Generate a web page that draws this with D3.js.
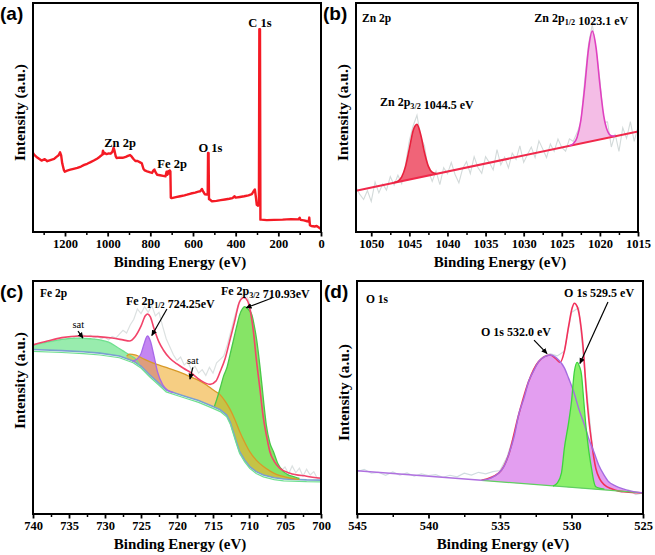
<!DOCTYPE html>
<html><head><meta charset="utf-8">
<script src="https://cdn.jsdelivr.net/npm/d3@7"></script>
<style>body{margin:0;background:#fff}svg{display:block}</style></head>
<body>
<svg id="chart" width="655" height="555"></svg>
<script>
// ---------------- DATA ----------------
// (a) survey spectrum [binding energy, intensity]
const surveyData = [[1350,34.5],[1345,33.8],[1330,32.5],[1310,31.2],[1295,31.8],[1283,30.9],[1265,31.5],[1251,31.9],[1240,32.8],[1230,33.5],[1223,34.8],[1218,33.5],[1213,30.0],[1205,27.0],[1201,26.3],[1190,26.8],[1175,27.2],[1160,27.6],[1142,28.0],[1125,28.6],[1110,29.3],[1096,29.8],[1080,30.5],[1065,31.2],[1050,32.0],[1040,32.6],[1033,33.2],[1025,33.8],[1022,35.5],[1019,34.0],[1015,34.6],[1005,34.0],[995,34.3],[986,34.2],[978,35.0],[972,36.8],[968,35.5],[962,33.0],[958,32.3],[945,32.5],[930,32.4],[915,32.8],[905,33.2],[895,33.6],[888,33.0],[880,32.0],[870,31.0],[860,31.0],[848,30.4],[840,30.0],[832,27.5],[826,26.9],[815,26.5],[800,26.0],[792,25.8],[786,26.8],[781,27.3],[775,26.0],[768,25.0],[755,24.8],[740,24.5],[729,24.3],[724,26.3],[720,25.0],[716,26.5],[712,25.5],[709,26.9],[706,26.5],[704,15.0],[700,14.8],[680,15.2],[660,15.6],[640,16.0],[628,16.3],[610,16.8],[590,17.2],[575,17.6],[566,17.8],[558,18.8],[552,17.6],[545,16.5],[535,16.3],[531,16.5],[529.5,34.5],[527,34.5],[525,14.3],[520,14.1],[511,13.4],[490,13.6],[470,13.9],[450,14.2],[430,14.5],[415,14.8],[405,15.6],[400,15.0],[380,15.3],[360,15.6],[340,16.0],[324,16.5],[316,17.8],[310,18.6],[305,15.0],[301,11.9],[295,11.5],[291,12.2],[289,88.6],[286,88.6],[284,5.4],[280,5.4],[254,5.2],[220,5.3],[180,5.4],[140,5.6],[106,5.5],[100,6.2],[96,5.3],[80,5.1],[65,4.7],[58,4.6],[55,6.3],[52,3.0],[45,2.6],[30,2.4],[20,2.6],[10,2.0],[0,1.3]];
const surveyTicks = [1200,1000,800,600,400,200,0];
const surveyMinor = [1300,1100,900,700,500,300,100];

// (b) Zn 2p : raw counts on a 0.5 eV grid from 1052 eV downwards
const znRaw = [19.5,16.4,14.2,18.1,13.4,21.8,17.1,21.0,18.3,24.2,20.5,24.8,21.1,29.7,39.9,46.4,51.0,41.4,37.5,26.7,22.1,26.6,20.7,28.1,25.4,30.3,25.1,21.5,27.8,30.7,25.5,32.9,28.2,25.6,32.9,30.3,27.1,36.0,29.3,32.7,28.0,34.4,31.7,37.6,30.4,33.8,37.1,32.5,39.8,36.2,32.5,38.4,35.2,40.6,36.9,35.3,40.7,39.6,43.3,47.8,66.0,81.8,90.7,79.5,66.4,47.9,48.1,37.1,42.8,35.2,45.5,40.9,48.2,39.6,45.9];
const znBaseline = [[1052,18],[1015,43.9]];
const zn32Peak = [[1047,21.6],[1046.5,22.25],[1046,24.1],[1045.5,28.65],[1045,36.4],[1044.5,44.35],[1044,47.0],[1043.5,42.35],[1043,34.5],[1042.5,28.65],[1042,26.1],[1041.5,25.55]];
const zn12Peak = [[1024,37.7],[1023.5,38.55],[1023,41.3],[1022.5,48.75],[1022,63],[1021.5,79.75],[1021,87.7],[1020.5,80.45],[1020,64.4],[1019.5,50.85],[1019,44.1],[1018.5,42.05],[1018,41.9]];
const znTicks = [1050,1045,1040,1035,1030,1025,1020,1015];
const znMinor = [1047.5,1042.5,1037.5,1032.5,1027.5,1022.5,1017.5];

// (c) Fe 2p
const feRaw = [[740,74.0],[739.5,73.2],[739,74.5],[738.5,73.8],[738,75.2],[737.5,74.6],[737,75.8],[736.5,75.0],[736,76.4],[735.5,75.9],[735,77.1],[734.5,76.5],[734,77.8],[733.5,77.0],[733,78.2],[732.5,77.4],[732,78.0],[731.5,76.8],[731,77.6],[730.5,76.5],[730,77.2],[729.5,76.0],[729,77.5],[728.5,76.8],[728,78.5],[727.5,80.2],[727,79.0],[726.5,82.5],[726,85.0],[725.5,89.5],[725,87.5],[724.5,90.5],[724,88.0],[723.5,91.0],[723,86.5],[722.5,88.0],[722,82.0],[721.5,76.5],[721,73.0],[720.5,69.5],[720,67.0],[719.5,68.5],[719,65.0],[718.5,66.5],[718,63.0],[717.5,64.5],[717,61.5],[716.5,63.0],[716,60.5],[715.5,64.0],[715,61.5],[714.5,66.0],[714,67.5],[713.5,69.0],[713,74.0],[712.5,80.0],[712,86.0],[711.5,91.5],[711,95.0],[710.5,96.5],[710,93.0],[709.5,85.0],[709,70.0],[708.5,55.0],[708,42.0],[707.5,33.0],[707,27.0],[706.5,23.5],[706,21.0],[705.5,19.0],[705,20.5],[704.5,17.5],[704,21.0],[703.5,18.0],[703,20.0],[702.5,16.5],[702,19.5],[701.5,17.0],[701,18.5],[700.5,15.5],[700,16.0]];
const feEnvelope = [[740,73.8],[738,75.5],[736,77],[733.5,77.7],[731,77.4],[729,76.8],[727.5,76],[726.6,75.5],[725.8,77.5],[725,82],[724.4,86.5],[724.1,87.3],[723.7,86],[723.2,81],[722.5,75],[721.9,71.6],[721,68],[720,65.5],[719.1,63.6],[718,61.5],[716.8,58.5],[715.4,56.6],[714.6,58],[714,62.2],[713.3,68],[712.7,75.3],[712,84],[711.3,92.7],[710.7,94.5],[710.2,93],[709.9,89.8],[709.4,80],[709,68],[708.5,55],[708,41.8],[707.5,33],[707.1,27.2],[706.5,23],[705.7,19.9],[704.3,17.8],[702,16.5],[700,15.6]];
const feBackground = [[740,71.8],[736,71.3],[733,70.8],[730.7,70.2],[728,69],[726.1,66.8],[725,64.5],[723.8,60.7],[722.5,57],[721.5,54.1],[720,52.5],[718.7,51.2],[717,49.5],[715,46.9],[714,45.5],[713.1,43.2],[712.6,40],[712.2,36],[711.7,31],[711.3,27.2],[710.6,23.5],[709.9,20.7],[709,18.5],[708,17],[706.5,15.8],[705.2,15.3],[702,14.9],[700,14.8]];
const feSat1 = [[740,73.8],[738,75],[736,76.2],[734,76.8],[732,76.5],[730.7,76],[729.5,75],[728.4,73],[727.5,71.2],[726.6,69.4],[725.6,67.2],[725.2,65.1]];
const fe12Peak = [[726.2,66.6],[725.6,67.5],[725,70],[724.6,74],[724.1,77.7],[723.7,75.5],[723.2,69],[722.7,62],[722,56.5],[721.3,54],[720.5,53]];
const feSat2 = [[727,68.9],[726.6,69.8],[725.7,69.3],[724.5,67.5],[722.9,65.4],[721.5,64],[720.5,62.9],[719.3,61.5],[718.2,60],[717,58.3],[715.9,56.3],[715,54.2],[714,52],[713.3,49.2],[712.7,46.1],[712,41.5],[711.3,36],[710.6,31.3],[709.9,27.2],[709,23.5],[708,20.7],[707,18.6],[706.2,17.3],[705,16.2],[704,15.5],[703,15.1]];
const fe32Peak = [[714.8,47],[714.5,49.8],[714,55],[713.5,60.5],[713.1,63.6],[712.6,70],[712.2,75.3],[711.7,82],[711.3,86.9],[710.9,89.6],[710.6,90.5],[710.2,89.6],[709.6,86.9],[709.2,81],[708.9,75.3],[708.5,65],[708.2,56.3],[707.9,47],[707.6,38.9],[707.1,31],[706.6,27.2],[706,22],[705.2,18.5],[704.5,17],[703.8,16.3],[703,15.5]];
const feTicks = [740,735,730,725,720,715,710,705,700];
const feMinor = [737.5,732.5,727.5,722.5,717.5,712.5,707.5,702.5];

// (d) O 1s
const oRaw = [[545,18.5],[544.5,19.5],[544,17.8],[543.5,18.2],[543,16.9],[542.5,18.4],[542,17.0],[541.5,17.9],[541,16.5],[540.5,17.5],[540,16.8],[539.5,17.2],[539,16.0],[538.5,16.9],[538,16.2],[537.5,17.8],[537,17.0],[536.5,18.2],[536,17.5],[535.5,18.5],[535,19.0],[534.5,25.0],[534,35.0],[533.5,47.0],[533,58.0],[532.5,65.0],[532,68.5],[531.5,70.0],[531,69.0],[530.5,71.0],[530,88.0],[529.5,90.0],[529,58.0],[528.5,27.0],[528,16.5],[527.5,12.5],[527,11.0],[526.5,9.5],[526,10.5],[525.5,8.5],[525,9.2]];
const oBackground = [[545,18.9],[525,9.2]];
const o532Peak = [[536.3,14.7],[535.6,15.8],[535.1,17.8],[534.7,21],[534.4,25.8],[534.0,34],[533.7,43.2],[533.3,51],[533.0,57.8],[532.6,63],[532.3,66.5],[531.9,68.6],[531.5,69.4],[531.2,68.8],[530.9,67.2],[530.5,63.8],[530.2,59.2],[529.8,52.5],[529.5,46.1],[529.1,39],[528.8,33],[528.4,26.5],[528.1,21.4],[527.7,16.8],[527.4,14.1],[527,12.5],[526.7,11.6],[526,10.2],[525,9.2]];
const o529Peak = [[531.3,12.2],[531,13.5],[530.7,18],[530.5,28.7],[530.2,40],[530.0,49.1],[529.8,62.2],[529.6,66.2],[529.45,64.5],[529.3,60.7],[529.15,50],[529.0,38.9],[528.8,28],[528.6,19.9],[528.45,14.5],[528.3,11.9],[528,11.2],[527.7,10.9]];
const oEnvelope = [[536.3,14.7],[535.1,17.8],[534.4,25.8],[533.7,43.2],[533,57.8],[532.3,66.5],[531.5,69.4],[531.1,67.8],[530.8,66.2],[530.5,71],[530.2,82],[529.95,90],[529.8,92],[529.6,90.5],[529.35,82.5],[529.15,70],[529.0,56.3],[528.8,42],[528.6,31.6],[528.3,19.9],[528,15],[527.7,12.7],[527.2,11],[526.7,10],[525,9.2]];
const oTicks = [545,540,535,530,525];
const oMinor = [542.5,537.5,532.5,527.5];

// ---------------- DRAW ----------------
const svg = d3.select("#chart");
const SERIF = "'Liberation Serif','Times New Roman',serif";
const SANS = "'Liberation Sans',Arial,sans-serif";
const defs = svg.append("defs");
defs.append("marker").attr("id","ah").attr("viewBox","0 0 10 10").attr("refX",9).attr("refY",5)
  .attr("markerWidth",6).attr("markerHeight",6).attr("markerUnits","userSpaceOnUse").attr("orient","auto")
  .append("path").attr("d","M0,0.5L10,5L0,9.5Z").attr("fill","#000");

function interp(arr, be){
  for(let i=0;i<arr.length-1;i++){
    const a=arr[i], b=arr[i+1];
    if((be<=a[0]&&be>=b[0])){ const t=(a[0]-be)/(a[0]-b[0]); return a[1]+(b[1]-a[1])*t; }
  }
  return be>arr[0][0]?arr[0][1]:arr[arr.length-1][1];
}

let clipN=0;
function makePanel(o){
  const x=d3.scaleLinear().domain(o.xd).range([o.L,o.R]);
  const y=d3.scaleLinear().domain(o.yd).range([o.B,o.T]);
  const g=svg.append("g");
  const id="clip"+(clipN++);
  defs.append("clipPath").attr("id",id).append("rect").attr("x",o.L).attr("y",o.T).attr("width",o.R-o.L).attr("height",o.B-o.T);
  const plot=g.append("g").attr("clip-path",`url(#${id})`);
  g.append("g").attr("transform",`translate(0,${o.B})`)
    .call(d3.axisBottom(x).tickValues(o.minor).tickSize(3).tickFormat(""))
    .call(a=>a.select(".domain").remove())
    .selectAll("line").attr("stroke","#000").attr("stroke-width",1.5);
  const ax=g.append("g").attr("transform",`translate(0,${o.B})`)
    .call(d3.axisBottom(x).tickValues(o.major).tickSize(4.5).tickPadding(3).tickFormat(d3.format("d")));
  ax.select(".domain").remove();
  ax.selectAll("line").attr("stroke","#000").attr("stroke-width",1.8);
  ax.selectAll("text").attr("font-family",SERIF).attr("font-weight","bold").attr("font-size",12.5).attr("fill","#000");
  g.append("text").attr("x",(o.L+o.R)/2+3).attr("y",o.B+35).attr("text-anchor","middle")
    .attr("font-family",SERIF).attr("font-weight","bold").attr("font-size",15).text("Binding Energy (eV)");
  g.append("text").attr("transform",`translate(${o.L-8},${(o.T+o.B)/2-5+(o.ytOff||0)}) rotate(-90)`).attr("text-anchor","middle")
    .attr("font-family",SERIF).attr("font-weight","bold").attr("font-size",15.5).text("Intensity (a.u.)");
  g.append("text").attr("x",o.L-33).attr("y",o.T+17).attr("font-family",SANS).attr("font-weight","bold")
    .attr("font-size",19).text(o.letter);
  const frame=()=>g.append("rect").attr("x",o.L).attr("y",o.T).attr("width",o.R-o.L).attr("height",o.B-o.T)
    .attr("fill","none").attr("stroke","#000").attr("stroke-width",2);
  return {g,plot,x,y,frame};
}

function lineGen(P,curve){ return d3.line().x(d=>P.x(d[0])).y(d=>P.y(d[1])).curve(curve||d3.curveMonotoneX); }
function areaGen(P,base){ return d3.area().x(d=>P.x(d[0])).y0(d=>P.y(interp(base,d[0]))).y1(d=>P.y(d[1])).curve(d3.curveMonotoneX); }

function label(g,x,y,parts,size,anchor){
  const t=g.append("text").attr("x",x).attr("y",y).attr("font-family",SERIF).attr("font-weight","bold")
    .attr("font-size",size||12).attr("text-anchor",anchor||"start");
  parts.forEach(p=>{
    if(p.sub){ t.append("tspan").attr("font-size",(size||12)*0.68).attr("dy",3).text(p.t);
               t.append("tspan").attr("dy",-3).text(""); }
    else t.append("tspan").text(p.t);
  });
  return t;
}
function arrow(g,x1,y1,x2,y2){
  g.append("line").attr("x1",x1).attr("y1",y1).attr("x2",x2).attr("y2",y2)
    .attr("stroke","#000").attr("stroke-width",1.2).attr("marker-end","url(#ah)");
}

// ---- (a) ----
{
  const P=makePanel({L:33,R:321,T:3,B:232,xd:[1350,0],yd:[0,100],major:surveyTicks,minor:surveyMinor,letter:"(a)"});
  P.plot.append("path").datum(surveyData).attr("d",lineGen(P,d3.curveLinear)).attr("fill","none")
    .attr("stroke","#f41a24").attr("stroke-width",2.4).attr("stroke-linejoin","round");
  P.frame();
  label(P.g,P.x(286),P.y(89.5),[{t:"C 1s"}],12.5,"middle");
  label(P.g,P.x(942),P.y(37.1),[{t:"Zn 2p"}],12.5,"middle");
  label(P.g,P.x(698),P.y(27.9),[{t:"Fe 2p"}],12.5,"middle");
  label(P.g,P.x(518),P.y(34.9),[{t:"O 1s"}],12.5,"middle");
}

// ---- (b) ----
{
  const P=makePanel({L:356,R:638,T:3,B:232,xd:[1052,1015],yd:[0,100],major:znTicks,minor:znMinor,letter:"(b)"});
  const grid=d3.range(znRaw.length).map(i=>1052-0.5*i);
  P.plot.append("path").datum(znRaw.map((v,i)=>[grid[i],v])).attr("d",lineGen(P,d3.curveLinear))
    .attr("fill","none").attr("stroke","#d3dada").attr("stroke-width",1.1);
  P.plot.append("path").datum(zn32Peak).attr("d",areaGen(P,znBaseline)).attr("fill","#f06478");
  P.plot.append("path").datum(zn12Peak).attr("d",areaGen(P,znBaseline)).attr("fill","#f4bde6");
  P.plot.append("path").datum(znBaseline).attr("d",lineGen(P,d3.curveLinear)).attr("fill","none").attr("stroke","#f0284a").attr("stroke-width",2);
  P.plot.append("path").datum(zn32Peak).attr("d",lineGen(P)).attr("fill","none").attr("stroke","#e8203c").attr("stroke-width",1.6);
  P.plot.append("path").datum(zn12Peak).attr("d",lineGen(P)).attr("fill","none").attr("stroke","#e040c0").attr("stroke-width",1.6);
  P.frame();
  label(P.g,362,22,[{t:"Zn 2p"}],11.5);
  label(P.g,P.x(1028.6),P.y(91.7),[{t:"Zn 2p"},{t:"1/2",sub:true},{t:" 1023.1 eV"}],12);
  label(P.g,P.x(1048.85),P.y(55),[{t:"Zn 2p"},{t:"3/2",sub:true},{t:" 1044.5 eV"}],12);
}

// ---- (c) ----
{
  const P=makePanel({L:33,R:321,T:281,B:514,xd:[740,700],yd:[0,101.7],major:feTicks,minor:feMinor,letter:"(c)",ytOff:-12});
  P.plot.append("path").datum(feRaw).attr("d",lineGen(P,d3.curveLinear)).attr("fill","none").attr("stroke","#dce1e1").attr("stroke-width",1.2);
  P.plot.append("path").datum(feSat1).attr("d",areaGen(P,feBackground)).attr("fill","#8deaa4").attr("opacity",0.9);
  P.plot.append("path").datum(fe12Peak).attr("d",areaGen(P,feBackground)).attr("fill","#c486f2");
  P.plot.append("path").datum(fe32Peak).attr("d",areaGen(P,feBackground)).attr("fill","#86e466");
  P.plot.append("path").datum(feSat2).attr("d",areaGen(P,feBackground)).attr("fill","#f0ae30").attr("opacity",0.6);
  P.plot.append("path").datum(feBackground).attr("d",lineGen(P,d3.curveLinear)).attr("fill","none").attr("stroke","#7aa0d0").attr("stroke-width",1.6);
  P.plot.append("path").datum(feBackground.map(d=>[d[0],d[1]-0.8])).attr("d",lineGen(P,d3.curveLinear)).attr("fill","none").attr("stroke","#70e090").attr("stroke-width",1.2);
  P.plot.append("path").datum(feSat1).attr("d",lineGen(P)).attr("fill","none").attr("stroke","#6ee08e").attr("stroke-width",1.3);
  P.plot.append("path").datum(feSat2).attr("d",lineGen(P)).attr("fill","none").attr("stroke","#d89a28").attr("stroke-width",1.3);
  P.plot.append("path").datum(fe12Peak).attr("d",lineGen(P)).attr("fill","none").attr("stroke","#a868e8").attr("stroke-width",1.3);
  P.plot.append("path").datum(fe32Peak).attr("d",lineGen(P)).attr("fill","none").attr("stroke","#48c848").attr("stroke-width",1.3);
  P.plot.append("path").datum(feEnvelope).attr("d",lineGen(P)).attr("fill","none").attr("stroke","#f2446a").attr("stroke-width",1.6);
  P.frame();
  label(P.g,40,297,[{t:"Fe 2p"}],11.5);
  label(P.g,P.x(727.1),P.y(91.2),[{t:"Fe 2p"},{t:"1/2",sub:true},{t:" 724.25eV"}],12);
  label(P.g,P.x(713.9),P.y(95.6),[{t:"Fe 2p"},{t:"3/2",sub:true},{t:" 710.93eV"}],12);
  P.g.append("text").attr("x",P.x(733.7)).attr("y",P.y(81.2)).attr("text-anchor","middle").attr("font-family",SERIF).attr("font-size",10.5).text("sat");
  P.g.append("text").attr("x",P.x(717.8)).attr("y",P.y(65.5)).attr("text-anchor","middle").attr("font-family",SERIF).attr("font-size",10.5).text("sat");
  arrow(P.g,P.x(733.75),P.y(79.8),P.x(733.06),P.y(76.8));
  arrow(P.g,P.x(717.8),P.y(64.0),P.x(718.2),P.y(58.9));
  arrow(P.g,P.x(721.4),P.y(89.5),P.x(723.5),P.y(77.9));
  arrow(P.g,P.x(706.8),P.y(94.3),P.x(710.4),P.y(90.0));
}

// ---- (d) ----
{
  const P=makePanel({L:357,R:643,T:281,B:514,xd:[545,525],yd:[0,101.7],major:oTicks,minor:oMinor,letter:"(d)"});
  P.plot.append("path").datum(oRaw).attr("d",lineGen(P,d3.curveLinear)).attr("fill","none").attr("stroke","#d0dde0").attr("stroke-width",1.2);
  P.plot.append("path").datum(o532Peak).attr("d",areaGen(P,oBackground)).attr("fill","#e39ef0");
  P.plot.append("path").datum(o529Peak).attr("d",areaGen(P,oBackground)).attr("fill","#8cf06a");
  P.plot.append("path").datum(oEnvelope).attr("d",lineGen(P)).attr("fill","none").attr("stroke","#f2305a").attr("stroke-width",1.6);
  P.plot.append("path").datum([[536.3,14.7],[525,9.2]]).attr("d",lineGen(P,d3.curveLinear)).attr("fill","none").attr("stroke","#60d060").attr("stroke-width",1.3);
  P.plot.append("path").datum([[545,18.9],[536.3,14.7]]).attr("d",lineGen(P,d3.curveLinear)).attr("fill","none").attr("stroke","#b070e0").attr("stroke-width",1.6);
  P.plot.append("path").datum(o532Peak).attr("d",lineGen(P)).attr("fill","none").attr("stroke","#a66ce0").attr("stroke-width",1.4);
  P.plot.append("path").datum(o529Peak).attr("d",lineGen(P)).attr("fill","none").attr("stroke","#3ed43e").attr("stroke-width",1.3);
  P.frame();
  label(P.g,366,303,[{t:"O 1s"}],11.5);
  label(P.g,P.x(530.52),P.y(94.7),[{t:"O 1s 529.5 eV"}],12);
  label(P.g,P.x(536.33),P.y(77.7),[{t:"O 1s 532.0 eV"}],12);
  arrow(P.g,P.x(532.62),P.y(75.9),P.x(531.71),P.y(70.0));
  arrow(P.g,P.x(527.45),P.y(92.5),P.x(529.41),P.y(65.7));
}
</script>
</body></html>
